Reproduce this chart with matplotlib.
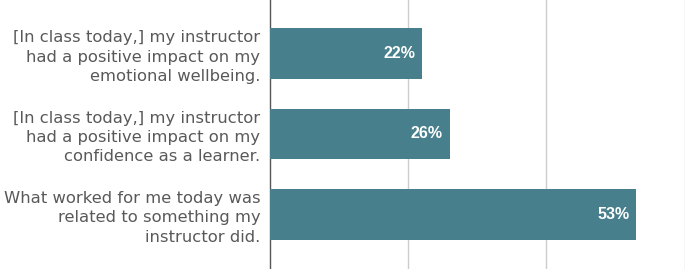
import matplotlib
matplotlib.use("Agg")
import matplotlib.pyplot as plt

labels = [
    "[In class today,] my instructor\nhad a positive impact on my\nemotional wellbeing.",
    "[In class today,] my instructor\nhad a positive impact on my\nconfidence as a learner.",
    "What worked for me today was\nrelated to something my\ninstructor did.",
]
values = [22, 26, 53]

BAR_COLOR = "#47808c"
TEXT_COLOR = "#595959"


def plot_bars():
    fig = plt.figure(figsize=(6.85, 2.69), dpi=100)
    ax = fig.add_axes([270 / 685, 0, 414.5 / 685, 1])

    pos = list(range(len(values)))
    ax.barh(pos, values, height=0.63, color=BAR_COLOR, zorder=3)

    for p, v in zip(pos, values):
        ax.text(v - 1.0, p, f"{v}%", ha="right", va="center", color="white",
                fontsize=11.5, fontweight="bold", family="Liberation Sans", zorder=4)

    ax.set_xlim(0, 60)
    ax.set_ylim(2.68, -0.665)
    ax.set_xticks([20, 40, 60])
    ax.xaxis.grid(True, color="#cccccc", linewidth=1, zorder=0)
    ax.tick_params(axis="x", length=0, labelbottom=False)

    ax.set_yticks(pos)
    ax.set_yticklabels(labels, fontsize=11.8, color=TEXT_COLOR,
                       family="DejaVu Sans", linespacing=1.36)
    ax.tick_params(axis="y", length=0, pad=7)

    for side in ["top", "right", "bottom"]:
        ax.spines[side].set_visible(False)
    ax.spines["left"].set_color("#555555")
    ax.spines["left"].set_linewidth(1)

    fig.savefig("out.png", dpi=100)
    plt.close(fig)


if __name__ == "__main__":
    plot_bars()
